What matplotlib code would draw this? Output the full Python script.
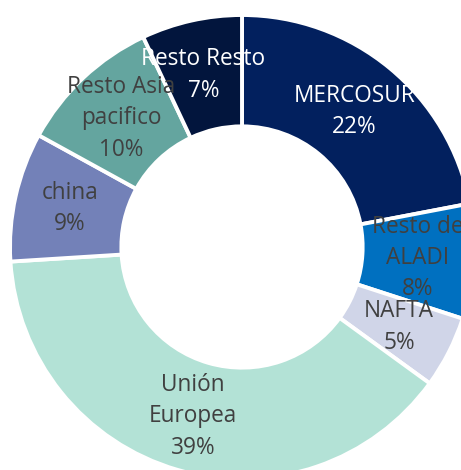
import matplotlib
matplotlib.use("Agg")
import matplotlib.pyplot as plt

categories = ["MERCOSUR", "Resto de\nALADI", "NAFTA", "Unión\nEuropea", "china", "Resto Asia\npacifico", "Resto Resto"]
values = [22, 8, 5, 39, 9, 10, 7]
colors = ["#02205E", "#0070C0", "#D0D5E8", "#B3E2D6", "#7381B8", "#64A59F", "#02153D"]
text_colors = ["white", "#404040", "#404040", "#404040", "#404040", "#404040", "white"]

labels = [f"{c}\n{v}%" for c, v in zip(categories, values)]

W, H = 461, 470
fig = plt.figure(figsize=(W / 100, H / 100), dpi=100)
ax = fig.add_axes([0, 0, 1, 1])

cx, cy, R = 242, 247, 232
wedges, texts = ax.pie(
    values, colors=colors, labels=labels, startangle=90, counterclock=False,
    radius=1, labeldistance=0.76,
    wedgeprops=dict(width=0.48, edgecolor="white", linewidth=2.8),
    textprops=dict(ha="center", va="center", fontsize=16.3, family="Open Sans", linespacing=1.4),
)
for t, c in zip(texts, text_colors):
    t.set_color(c)

ax.set_xlim(-cx / R, (W - cx) / R)
ax.set_ylim((cy - H) / R, cy / R)
ax.set_aspect("auto")
ax.axis("off")
fig.savefig("out.png", dpi=100)
